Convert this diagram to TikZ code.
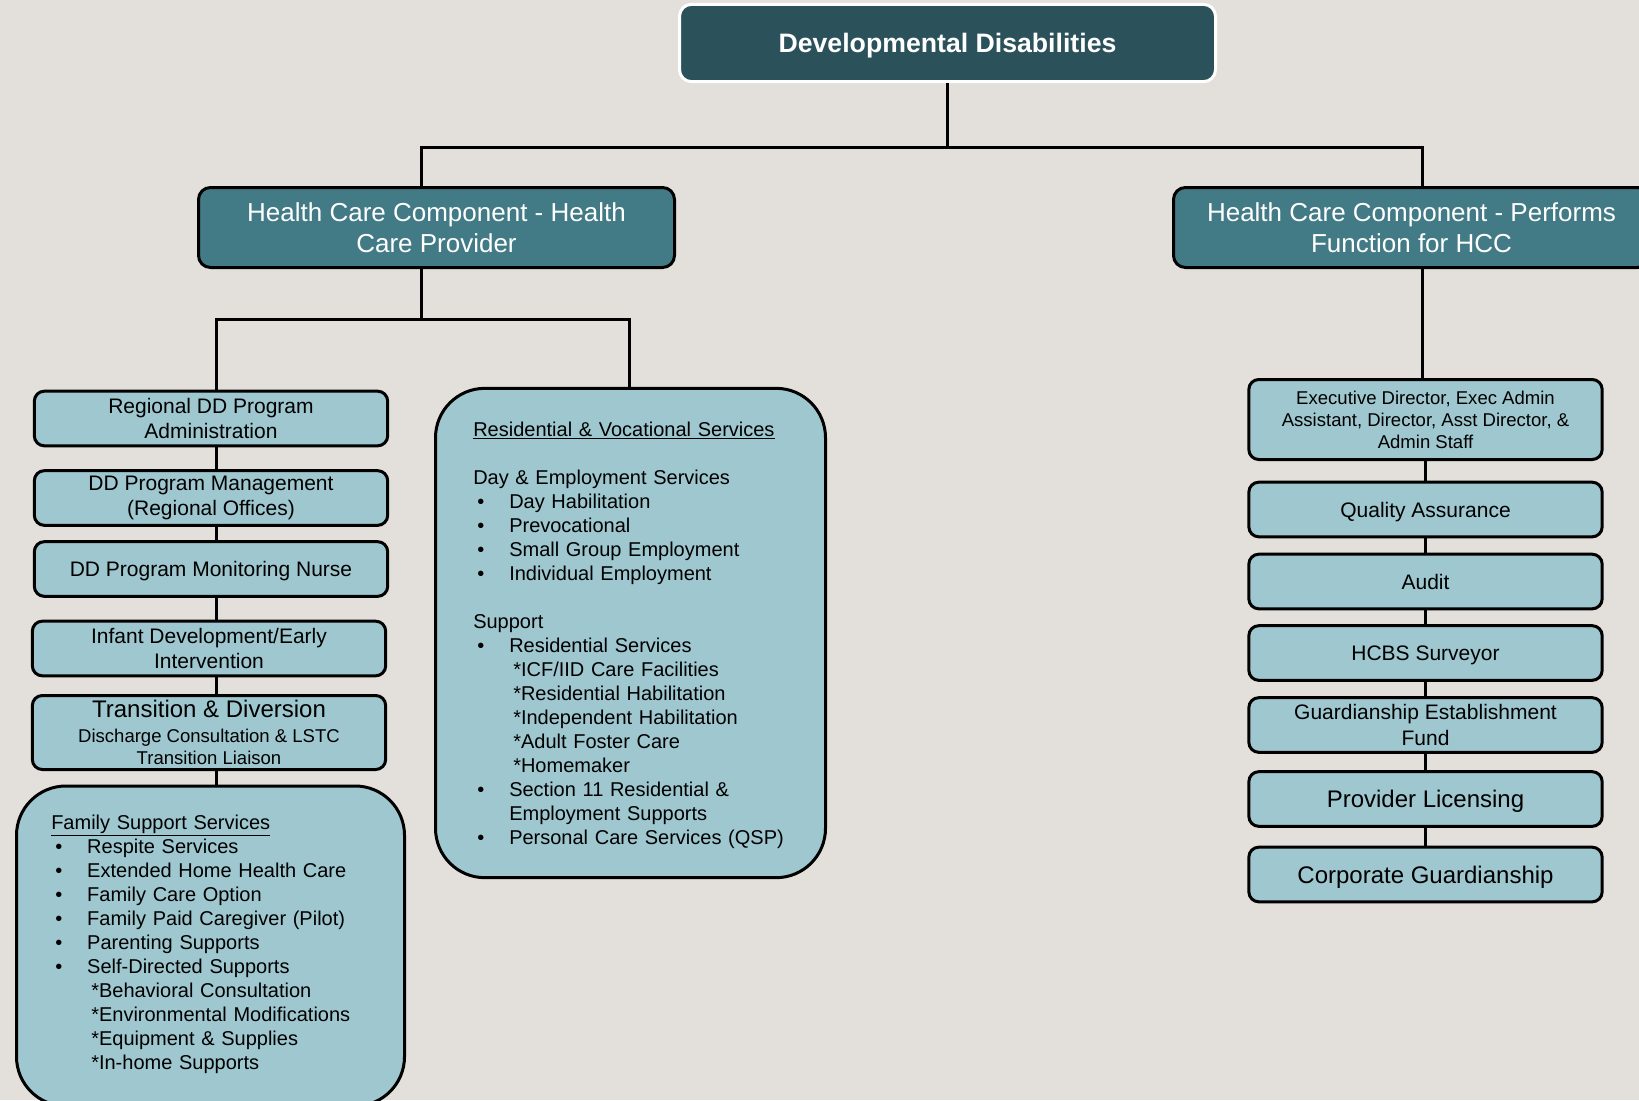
\documentclass[tikz,border=0pt]{standalone}
\usepackage{fontspec}
\setmainfont{Liberation Sans}
\usetikzlibrary{calc}

\definecolor{ddback}{HTML}{E3E0DB}
\definecolor{ddtop}{HTML}{2B525B}
\definecolor{ddmid}{HTML}{427B85}
\definecolor{ddlight}{HTML}{9EC7CF}

\newcommand{\bitem}[1]{\hspace*{3pt}\makebox[24pt][l]{•}#1}
\newcommand{\sitem}[1]{\hspace*{30pt}*#1}
\newcommand{\citem}[1]{\hspace*{27pt}#1}

\tikzset{
  link/.style={line width=2.25pt},
  topbox/.style={draw=white, line width=2.25pt, rounded corners=9pt, fill=ddtop, text=white,
    minimum width=402pt, minimum height=58pt, inner sep=0pt, text height=14.3pt, text depth=0pt,
    font=\fontsize{20pt}{23pt}\selectfont},
  midbox/.style={draw=black, line width=2.25pt, rounded corners=9pt, fill=ddmid, text=white,
    minimum width=357pt, minimum height=60pt, inner sep=0pt, align=center, font=\fontsize{19.5pt}{23.25pt}\selectfont},
  unitbox/.style={draw=black, line width=2.25pt, rounded corners=7.5pt, fill=ddlight,
    minimum width=265pt, minimum height=41pt, inner sep=0pt, align=center, font=\fontsize{15.75pt}{19pt}\selectfont},
  onebox/.style={unitbox, text height=11.3pt, text depth=0pt},
  bigone/.style={unitbox, text height=12.9pt, text depth=0pt, font=\fontsize{18pt}{21pt}\selectfont},
  listbox/.style={draw=black, line width=2.25pt, rounded corners=37pt, fill=ddlight, inner sep=0pt},
  listtext/.style={text width=262pt, align=left, inner sep=0pt, font=\fontsize{15pt}{18pt}\selectfont}
}

\begin{document}
\begin{tikzpicture}[x=0.75pt, y=-0.75pt]
\useasboundingbox (0,0) rectangle (1639,1100);
\fill[ddback] (0,0) rectangle (1639,1100);

% top levels
\node (dd) [topbox] at (947.5,43) {\textbf{Developmental Disabilities}};
\node (hcp) [midbox] at (436.5,227.5) {Health Care Component - Health\\Care Provider};
\node (hcf) [midbox] at (1411.5,227.5) {Health Care Component - Performs\\Function for HCC};

% provider side
\node (regional) [unitbox] at (211,418.5) {Regional DD Program\\Administration};
\node (mgmt) [unitbox] at (211,498) {DD Program Management\\(Regional Offices)};
\node (nurse) [onebox] at (211,569) {DD Program Monitoring Nurse};
\node (infant) [unitbox] at (209,648.5) {Infant Development/Early\\Intervention};
\node (trans) [unitbox, minimum height=55.5pt, font=\fontsize{13.9pt}{16.5pt}\selectfont] at (209,732.5)
  {{\fontsize{18pt}{16.5pt}\selectfont Transition \& Diversion}\\[2.25pt]Discharge Consultation \& LSTC\\Transition Liaison};
\node (family) [listbox, minimum width=291pt, minimum height=240pt] at (210.5,946) {};
\node (resid) [listbox, minimum width=292.5pt, minimum height=367pt] at (630.5,633) {};

\node (familytext) [listtext, anchor=base west] at (51,829) {\underline{Family Support Services}\\
\bitem{Respite Services}\\
\bitem{Extended Home Health Care}\\
\bitem{Family Care Option}\\
\bitem{Family Paid Caregiver (Pilot)}\\
\bitem{Parenting Supports}\\
\bitem{Self-Directed Supports}\\
\sitem{Behavioral Consultation}\\
\sitem{Environmental Modifications}\\
\sitem{Equipment \& Supplies}\\
\sitem{In-home Supports}};

\node (residtext) [listtext, anchor=base west] at (473,436) {\underline{Residential \& Vocational Services}\\[18pt]
Day \& Employment Services\\
\bitem{Day Habilitation}\\
\bitem{Prevocational}\\
\bitem{Small Group Employment}\\
\bitem{Individual Employment}\\[18pt]
Support\\
\bitem{Residential Services}\\
\sitem{ICF/IID Care Facilities}\\
\sitem{Residential Habilitation}\\
\sitem{Independent Habilitation}\\
\sitem{Adult Foster Care}\\
\sitem{Homemaker}\\
\bitem{Section 11 Residential \&}\\
\citem{Employment Supports}\\
\bitem{Personal Care Services (QSP)}};

% function side
\node (exec) [unitbox, minimum height=60pt, font=\fontsize{13.9pt}{16.5pt}\selectfont] at (1425.5,419.5)
  {Executive Director, Exec Admin\\Assistant, Director, Asst Director, \&\\Admin Staff};
\node (qa) [onebox] at (1425.5,509.5) {Quality Assurance};
\node (audit) [onebox] at (1425.5,581.5) {Audit};
\node (hcbs) [onebox] at (1425.5,653) {HCBS Surveyor};
\node (gef) [unitbox] at (1425.5,725) {Guardianship Establishment\\Fund};
\node (prov) [bigone] at (1425.5,799) {Provider Licensing};
\node (corp) [bigone] at (1425.5,874.5) {Corporate Guardianship};

% connectors
\coordinate (busl) at (421,147);
\coordinate (busr) at (1422,147);
\coordinate (busa) at (216,319);
\coordinate (busb) at (629,319);
\draw[link] (dd.south) -- (dd.south |- busl);
\draw[link] (busl |- hcp.north) -- (busl) -- (busr) -- (busr |- hcf.north);
\draw[link] (busl |- hcp.south) -- (busl |- busa);
\draw[link] (busa |- regional.north) -- (busa) -- (busb) -- (busb |- resid.north);
\draw[link] (busa |- regional.south) -- (busa |- mgmt.north);
\draw[link] (busa |- mgmt.south) -- (busa |- nurse.north);
\draw[link] (busa |- nurse.south) -- (busa |- infant.north);
\draw[link] (busa |- infant.south) -- (busa |- trans.north);
\draw[link] (busa |- trans.south) -- (busa |- family.north);
\draw[link] (busr |- hcf.south) -- (busr |- exec.north);
\draw[link] (exec.south) -- (qa.north);
\draw[link] (qa.south) -- (audit.north);
\draw[link] (audit.south) -- (hcbs.north);
\draw[link] (hcbs.south) -- (gef.north);
\draw[link] (gef.south) -- (prov.north);
\draw[link] (prov.south) -- (corp.north);
\end{tikzpicture}
\end{document}
